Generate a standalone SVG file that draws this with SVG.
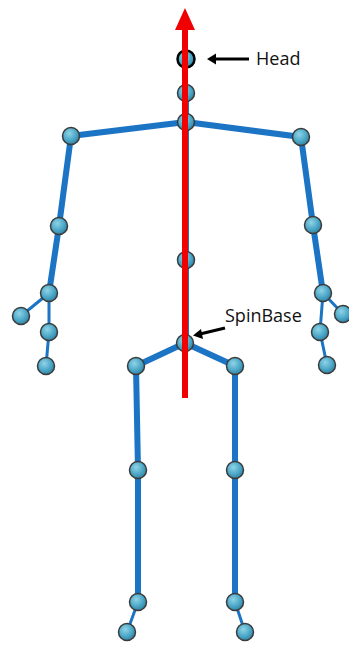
<svg xmlns="http://www.w3.org/2000/svg" width="349" height="646" viewBox="0 0 349 646">
  <defs>
    <radialGradient id="joint" cx="0.4" cy="0.35" r="0.7">
      <stop offset="0" stop-color="#8fd3e6"/>
      <stop offset="0.6" stop-color="#4aa6c6"/>
      <stop offset="1" stop-color="#2f7d9e"/>
    </radialGradient>
  </defs>
  <style>
    .bone { stroke: #1b74c4; stroke-width: 6; stroke-linecap: round; fill: none; }
    .thin { stroke: #1b74c4; stroke-width: 3; stroke-linecap: round; fill: none; }
    .joint { fill: url(#joint); stroke: #3b3b3b; stroke-width: 1.5; }
    .label { font-family: "Open Sans", "Liberation Sans", sans-serif; font-size: 18px; fill: #111; }
    .pointer { stroke: #000; stroke-width: 3; }
  </style>
  <rect width="349" height="646" fill="#fff"/>

  <g id="connectors">
    <!-- torso and arms -->
    <polyline class="bone" points="186,122 71,136 59,226 49,293"/>
    <polyline class="bone" points="186,122 301,137 313,225 323,293"/>
    <line class="bone" x1="186" y1="93" x2="186" y2="343"/>
    <!-- hands -->
    <polyline class="thin" points="49,293 49,332 46,366"/>
    <line class="thin" x1="49" y1="293" x2="21" y2="316"/>
    <polyline class="thin" points="323,293 320,332 327,365"/>
    <line class="thin" x1="323" y1="293" x2="343" y2="314"/>
    <!-- hips and legs -->
    <polyline class="bone" points="185,343 136,366 138,470 138,602"/>
    <polyline class="bone" points="185,343 235,366 235,470 235,602"/>
    <line class="thin" x1="138" y1="602" x2="127" y2="632"/>
    <line class="thin" x1="235" y1="602" x2="245" y2="632"/>
  </g>

  <g id="joints">
    <circle id="neck" class="joint" cx="186" cy="93" r="8.5"/>
    <circle id="spine-shoulder" class="joint" cx="186" cy="122" r="8.5"/>
    <circle id="shoulder-left" class="joint" cx="71" cy="136" r="8.5"/>
    <circle id="elbow-left" class="joint" cx="59" cy="226" r="8.5"/>
    <circle id="wrist-left" class="joint" cx="49" cy="293" r="8.5"/>
    <circle id="thumb-left" class="joint" cx="21" cy="316" r="8.5"/>
    <circle id="hand-left" class="joint" cx="49" cy="332" r="8.5"/>
    <circle id="handtip-left" class="joint" cx="46" cy="366" r="8.5"/>
    <circle id="shoulder-right" class="joint" cx="301" cy="137" r="8.5"/>
    <circle id="elbow-right" class="joint" cx="313" cy="225" r="8.5"/>
    <circle id="wrist-right" class="joint" cx="323" cy="293" r="8.5"/>
    <circle id="thumb-right" class="joint" cx="343" cy="314" r="8.5"/>
    <circle id="hand-right" class="joint" cx="320" cy="332" r="8.5"/>
    <circle id="handtip-right" class="joint" cx="327" cy="365" r="8.5"/>
    <circle id="spine-mid" class="joint" cx="186" cy="260" r="8.5"/>
    <circle id="spine-base" class="joint" cx="185" cy="343" r="8.5"/>
    <circle id="hip-left" class="joint" cx="136" cy="366" r="8.5"/>
    <circle id="hip-right" class="joint" cx="235" cy="366" r="8.5"/>
    <circle id="knee-left" class="joint" cx="138" cy="470" r="8.5"/>
    <circle id="knee-right" class="joint" cx="235" cy="470" r="8.5"/>
    <circle id="ankle-left" class="joint" cx="138" cy="602" r="8.5"/>
    <circle id="ankle-right" class="joint" cx="235" cy="602" r="8.5"/>
    <circle id="foot-left" class="joint" cx="127" cy="632" r="8.5"/>
    <circle id="foot-right" class="joint" cx="245" cy="632" r="8.5"/>
  </g>

  <g id="head">
    <circle class="joint" cx="186" cy="59" r="8.5" style="stroke:#000;stroke-width:2.5"/>
  </g>

  <!-- vertical axis arrow -->
  <g id="axis">
    <line x1="185" y1="398" x2="185" y2="28" stroke="#f00000" stroke-width="6"/>
    <polygon points="185,8 175,30 195,30" fill="#f00000"/>
  </g>

  <g id="head-label">
    <line class="pointer" x1="249" y1="59" x2="214" y2="59"/>
    <polygon points="207,59 216,53.5 216,64.5" fill="#000"/>
    <text class="label" x="256" y="65">Head</text>
  </g>

  <g id="spinbase-label">
    <line class="pointer" x1="225" y1="328" x2="200" y2="334"/>
    <polygon points="193,335.5 201,329 203,339" fill="#000"/>
    <text class="label" x="225" y="322">SpinBase</text>
  </g>
</svg>
